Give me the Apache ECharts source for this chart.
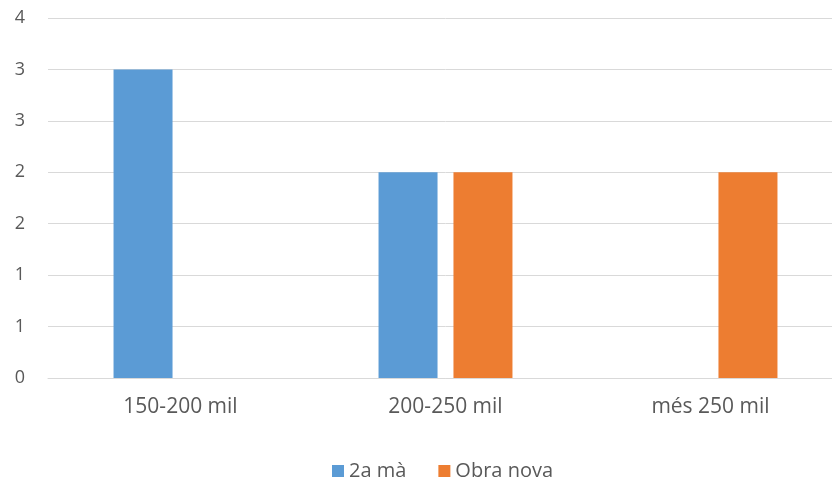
<!DOCTYPE html>
<html>
<head>
<meta charset="utf-8">
<script src="https://cdn.jsdelivr.net/npm/echarts@6/dist/echarts.min.js"></script>
<style>
  html, body { margin: 0; padding: 0; background: #ffffff; overflow: hidden; }
  /* the plot area extends a little past the visible right edge */
  #chart { width: 843px; height: 479px; }
</style>
</head>
<body>
<div id="chart"></div>
<script>
const categories = ['150-200 mil', '200-250 mil', 'més 250 mil'];
const seriesNames = ['2a mà', 'Obra nova'];
const segonaMa = [3, 2, 0];
const obraNova = [0, 2, 2];
const colors = ['#5b9bd5', '#ed7d31'];

const chart = echarts.init(document.getElementById('chart'));
const textColor = '#595959';
const fontFamily = '"Open Sans", "Liberation Sans", sans-serif';

chart.setOption({
  animation: false,
  color: colors,
  textStyle: { fontFamily: fontFamily },
  grid: { left: 48, right: 0, top: 18, height: 360, containLabel: false },
  legend: {
    data: seriesNames,
    top: 461,
    left: 332,
    padding: 0,
    itemWidth: 12,
    itemHeight: 12,
    itemGap: 32,
    icon: 'rect',
    textStyle: { color: textColor, fontSize: 20, fontFamily: fontFamily }
  },
  xAxis: {
    type: 'category',
    data: categories,
    axisLine: { lineStyle: { color: '#d9d9d9', width: 1 } },
    axisTick: { show: false },
    axisLabel: { color: textColor, fontSize: 21, margin: 19, fontFamily: fontFamily }
  },
  yAxis: {
    type: 'value',
    min: 0,
    max: 3.5,
    interval: 0.5,
    axisLine: { show: false },
    axisTick: { show: false },
    splitLine: { lineStyle: { color: '#d9d9d9', width: 1 } },
    axisLabel: {
      color: textColor,
      fontSize: 18,
      margin: 23,
      fontFamily: fontFamily,
      formatter: v => String(Math.round(v))
    }
  },
  series: [
    { name: seriesNames[0], type: 'bar', data: segonaMa, barWidth: 59, barGap: '27%' },
    { name: seriesNames[1], type: 'bar', data: obraNova, barWidth: 59, barGap: '27%' }
  ]
});
</script>
</body>
</html>
